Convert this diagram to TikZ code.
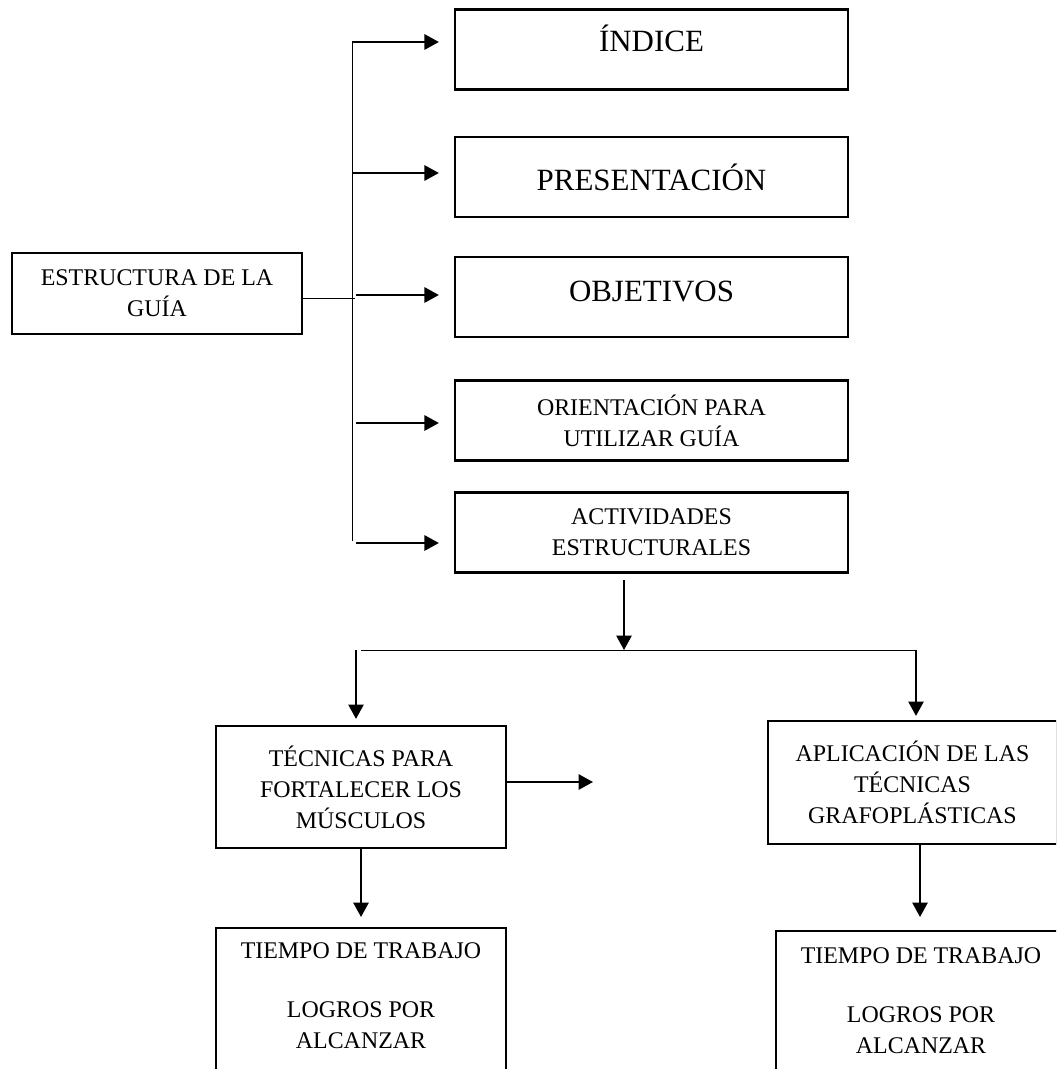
\documentclass[tikz,border=0pt]{standalone}
\usepackage{fontspec}
\setmainfont{Liberation Serif}
\usetikzlibrary{arrows.meta}
\begin{document}
\begin{tikzpicture}[x=0.025cm,y=-0.025cm,
  bx/.style={draw=black,line width=1.5pt,rectangle,align=center,inner sep=0pt,font=\fontsize{17}{22}\selectfont},
  big/.style={font=\fontsize{22}{26}\selectfont},
  tx/.style={align=center,inner sep=0pt,font=\fontsize{17}{22}\selectfont},
  ar/.style={line width=1.5pt,-{Triangle[length=0.36cm,width=0.38cm]}},
  ln/.style={line width=0.7pt}]
\useasboundingbox (0,0) rectangle (1056,1069);
\clip (0,0) rectangle (1056,1069);
\node[bx,minimum width=7.25cm,minimum height=2.025cm] (est) at (157,293.5) {ESTRUCTURA DE LA\\GUÍA};
\node[bx,big,minimum width=9.825cm,minimum height=2cm] (ind) at (651.5,49.5) {\raisebox{0.55cm}{ÍNDICE}};
\node[bx,big,minimum width=9.825cm,minimum height=2cm] (pre) at (651.5,177) {PRESENTACIÓN};
\node[bx,big,minimum width=9.825cm,minimum height=2cm] (obj) at (651.5,297) {\raisebox{0.3cm}{OBJETIVOS}};
\node[bx,minimum width=9.825cm,minimum height=2cm] (ori) at (651.5,420.5) {ORIENTACIÓN PARA\\UTILIZAR GUÍA};
\node[bx,minimum width=9.825cm,minimum height=2cm] (act) at (651.5,532.5) {ACTIVIDADES\\ESTRUCTURALES};
\node[bx,minimum width=7.25cm,minimum height=3.05cm] (tec) at (361,787) {TÉCNICAS PARA\\FORTALECER LOS\\MÚSCULOS};
\node[bx,minimum width=7.225cm,minimum height=3.075cm] (apl) at (912.5,782.5) {APLICACIÓN DE LAS\\TÉCNICAS\\GRAFOPLÁSTICAS};
\node[bx,minimum width=7.25cm,minimum height=4.5cm,anchor=north] (ti1) at (361,927) {};
\node[bx,minimum width=7.25cm,minimum height=4.5cm,anchor=north] (ti2) at (921,930) {};
\node[tx,anchor=north] (lg1) at (361,942) {TIEMPO DE TRABAJO\\[0.7cm]LOGROS POR\\ALCANZAR};
\node[tx,anchor=north] (lg2) at (921,947) {TIEMPO DE TRABAJO\\[0.7cm]LOGROS POR\\ALCANZAR};
% bus to the right
\coordinate (b1) at (352,42); \coordinate (b2) at (352,173); \coordinate (b3) at (356,295);
\coordinate (b4) at (356,423); \coordinate (b5) at (356,543); \coordinate (bb) at (352,541);
\coordinate (e1) at (355,298);
\draw[ln] (b1) -- (bb);
\draw[ln] (e1 -| est.east) -- (e1);
\draw[ar,shorten >=0.375cm] (b1) -- (b1 -| ind.west);
\draw[ar,shorten >=0.375cm] (b2) -- (b2 -| pre.west);
\draw[ar,shorten >=0.375cm] (b3) -- (b3 -| obj.west);
\draw[ar,shorten >=0.375cm] (b4) -- (b4 -| ori.west);
\draw[ar,shorten >=0.375cm] (b5) -- (b5 -| act.west);
% lower part
\coordinate (h0) at (624,650); \coordinate (hl) at (361,650); \coordinate (hr) at (916,650);
\coordinate (dl) at (356,650); \coordinate (fr) at (593,782); \coordinate (ad) at (920,0);
\draw[ar,shorten <=0.15cm] (act.south -| h0) -- (h0);
\draw[ln] (hl) -- (hr);
\draw[ar,shorten >=0.15cm] (dl) -- (dl |- tec.north);
\draw[ar,shorten >=0.1cm] (hr) -- (hr |- apl.north);
\draw[ar] (fr -| tec.east) -- (fr);
\draw[ar,shorten >=0.25cm] (tec.south) -- (ti1.north);
\draw[ar,shorten >=0.325cm] (apl.south -| ad) -- (ti2.north -| ad);
\end{tikzpicture}
\end{document}
